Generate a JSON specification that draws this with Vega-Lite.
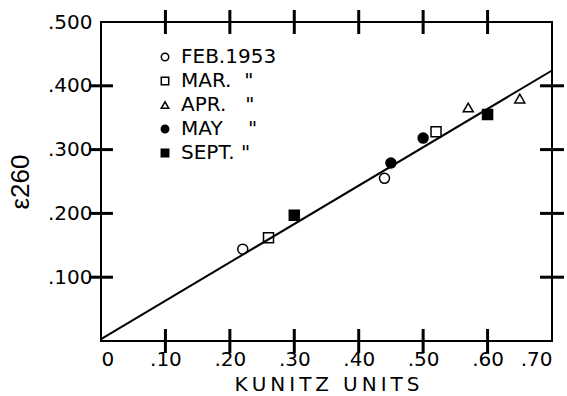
{
  "$schema": "https://vega.github.io/schema/vega-lite/v6.json",
  "width": 451,
  "height": 319,
  "autosize": "none",
  "padding": {"left": 101, "top": 22, "right": 15, "bottom": 55},
  "background": "white",
  "config": {
    "view": {"stroke": "black", "strokeWidth": 2},
    "font": "DejaVu Sans",
    "axis": {
      "domain": false,
      "grid": false,
      "ticks": false,
      "labelColor": "black",
      "labelFontSize": 20,
      "labelFont": "DejaVu Sans",
      "titleFont": "DejaVu Sans",
      "titleColor": "black",
      "titleFontWeight": "normal"
    },
    "legend": {
      "orient": "none",
      "legendX": 54,
      "legendY": 25,
      "title": null,
      "labelFont": "DejaVu Sans",
      "labelFontSize": 20,
      "labelColor": "black",
      "symbolSize": 55,
      "symbolStrokeWidth": 1.5,
      "rowPadding": 4,
      "labelOffset": 6,
      "padding": 0
    }
  },
  "datasets": {
    "pts": [
      {"month": "FEB.1953", "u": 0.22, "e": 0.144},
      {"month": "FEB.1953", "u": 0.44, "e": 0.255},
      {"month": "MAR.\u00a0\u00a0\"", "u": 0.26, "e": 0.162},
      {"month": "MAR.\u00a0\u00a0\"", "u": 0.52, "e": 0.328},
      {"month": "APR.\u00a0\u00a0\u00a0\"", "u": 0.57, "e": 0.366},
      {"month": "APR.\u00a0\u00a0\u00a0\"", "u": 0.65, "e": 0.380},
      {"month": "MAY\u00a0\u00a0\u00a0\u00a0\"", "u": 0.45, "e": 0.279},
      {"month": "MAY\u00a0\u00a0\u00a0\u00a0\"", "u": 0.50, "e": 0.318},
      {"month": "SEPT.\u00a0\"", "u": 0.30, "e": 0.197},
      {"month": "SEPT.\u00a0\"", "u": 0.60, "e": 0.355}
    ],
    "fit": [
      {"u": 0.0, "e": 0.003},
      {"u": 0.70, "e": 0.424}
    ],
    "xticks": [{"v": 0.1}, {"v": 0.2}, {"v": 0.3}, {"v": 0.4}, {"v": 0.5}, {"v": 0.6}],
    "yticks": [{"v": 0.1}, {"v": 0.2}, {"v": 0.3}, {"v": 0.4}]
  },
  "layer": [
    {
      "data": {"name": "pts"},
      "mark": {"type": "point", "size": 100, "strokeWidth": 1.5, "opacity": 1},
      "encoding": {
        "x": {
          "field": "u", "type": "quantitative",
          "scale": {"domain": [0, 0.7], "nice": false},
          "axis": {
            "orient": "bottom",
            "title": "K\u2009U\u2009N\u2009I\u2009T\u2009Z\u2002\u2009U\u2009N\u2009I\u2009T\u2009S",
            "titleFontSize": 20,
            "titlePadding": 5,
            "labelPadding": 8,
            "values": [0, 0.1, 0.2, 0.3, 0.4, 0.5, 0.6, 0.7],
            "labelExpr": "datum.value == 0 ? '0' : slice(format(datum.value, '.2f'), 1)"
          }
        },
        "y": {
          "field": "e", "type": "quantitative",
          "scale": {"domain": [0, 0.5], "nice": false},
          "axis": {
            "orient": "left",
            "title": "ε260",
            "titleFont": "Liberation Sans",
            "titleFontSize": 26,
            "titlePadding": 14,
            "labelPadding": 9,
            "values": [0.1, 0.2, 0.3, 0.4, 0.5],
            "labelExpr": "slice(format(datum.value, '.3f'), 1)"
          }
        },
        "shape": {
          "field": "month", "type": "nominal",
          "scale": {
            "domain": ["FEB.1953", "MAR.\u00a0\u00a0\"", "APR.\u00a0\u00a0\u00a0\"", "MAY\u00a0\u00a0\u00a0\u00a0\"", "SEPT.\u00a0\""],
            "range": ["circle", "square", "triangle-up", "circle", "square"]
          }
        },
        "fill": {
          "field": "month", "type": "nominal",
          "scale": {
            "domain": ["FEB.1953", "MAR.\u00a0\u00a0\"", "APR.\u00a0\u00a0\u00a0\"", "MAY\u00a0\u00a0\u00a0\u00a0\"", "SEPT.\u00a0\""],
            "range": ["white", "white", "white", "black", "black"]
          }
        },
        "stroke": {
          "field": "month", "type": "nominal",
          "scale": {
            "domain": ["FEB.1953", "MAR.\u00a0\u00a0\"", "APR.\u00a0\u00a0\u00a0\"", "MAY\u00a0\u00a0\u00a0\u00a0\"", "SEPT.\u00a0\""],
            "range": ["black", "black", "black", "black", "black"]
          }
        }
      }
    },
    {
      "data": {"name": "fit"},
      "mark": {"type": "line", "color": "black", "strokeWidth": 2},
      "encoding": {
        "x": {"field": "u", "type": "quantitative"},
        "y": {"field": "e", "type": "quantitative"}
      }
    },
    {
      "data": {"name": "xticks"},
      "mark": {"type": "tick", "orient": "vertical", "size": 24, "thickness": 3, "color": "black", "opacity": 1},
      "encoding": {
        "x": {"field": "v", "type": "quantitative"},
        "y": {"datum": 0.0}
      }
    },
    {
      "data": {"name": "xticks"},
      "mark": {"type": "tick", "orient": "vertical", "size": 24, "thickness": 3, "color": "black", "opacity": 1},
      "encoding": {
        "x": {"field": "v", "type": "quantitative"},
        "y": {"datum": 0.5}
      }
    },
    {
      "data": {"name": "yticks"},
      "mark": {"type": "tick", "orient": "horizontal", "size": 24, "thickness": 3, "color": "black", "opacity": 1},
      "encoding": {
        "y": {"field": "v", "type": "quantitative"},
        "x": {"datum": 0.0}
      }
    },
    {
      "data": {"name": "yticks"},
      "mark": {"type": "tick", "orient": "horizontal", "size": 24, "thickness": 3, "color": "black", "opacity": 1},
      "encoding": {
        "y": {"field": "v", "type": "quantitative"},
        "x": {"datum": 0.7}
      }
    }
  ]
}
